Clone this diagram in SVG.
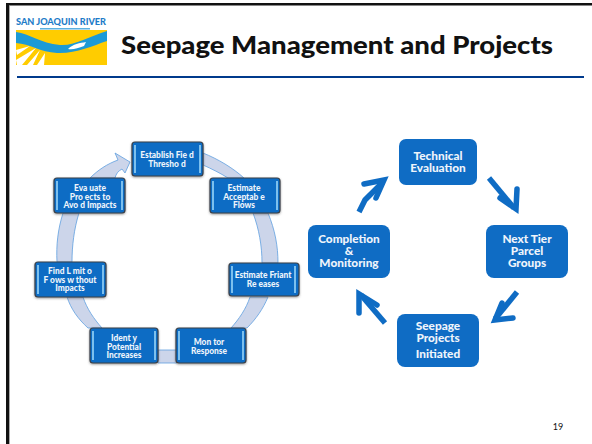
<svg xmlns="http://www.w3.org/2000/svg" width="592" height="444" viewBox="0 0 592 444">
<defs>
<style>
text{font-family:"Lato","Liberation Sans",sans-serif;font-weight:900;text-anchor:middle}
.l{font-size:8.400px;fill:#eef4fb}
.r{font-size:11.800px;fill:#eef4fb}
.box{fill:#0f6cc4;stroke:#3a4048;stroke-width:1.2}
.bar{fill:#7cc0ee}
.rbox{fill:#0f6cc4}
.seg{fill:#ccd5ea;stroke:#5f9fe0;stroke-width:.8}
.arr{fill:none;stroke:#0f6cc4;stroke-width:5.500}
</style>
<filter id="soft" x="-5%" y="-5%" width="110%" height="110%"><feGaussianBlur stdDeviation=".5"/></filter>
<filter id="sh" x="-10%" y="-10%" width="120%" height="125%"><feDropShadow dx="0" dy="1" stdDeviation=".8" flood-color="#555" flood-opacity=".6"/></filter>
</defs>
<rect width="592" height="444" fill="#fff"/>
<g id="frame">
<rect x="6" y="3" width="586" height="2.500" fill="#111"/>
<rect x="6" y="3" width="3" height="441" fill="#111"/>
<rect x="9" y="6" width="1" height="438" fill="#aaa"/>
<rect x="17" y="76" width="567" height="2" fill="#003a8c"/>
</g>
<g id="logo">
<g filter="url(#soft)">
<rect x="16" y="30" width="91" height="35" fill="#ffcc00"/>
<path d="M16 32C30 34 40 43 60 45C75 46 90 36 107 31V41C92 46 75 54 57 53C40 52 30 44 16 43Z" fill="#1e9ad6"/>
<path d="M68 49C73 44 80 43 86 42L84 46C78 48 73 50 68 49Z" fill="#fff"/>
<path d="M16 50L30 46L17 55ZM16 60L36 48L22 65H17ZM27 65L40 50L33 65ZM37 65L45 53L44 65Z" fill="#fff"/>
<rect x="40" y="28" width="50" height="1.500" fill="#5ab0e0"/>
</g>
<text x="61" y="25" style="font-size:8.500px;fill:#1e7cc8" textLength="90" lengthAdjust="spacingAndGlyphs">SAN JOAQUIN RIVER</text>
</g>
<text id="title" x="337" y="54" style="font-size:24px;fill:#111" textLength="432" lengthAdjust="spacingAndGlyphs">Seepage Management and Projects</text>
<g id="connectors">
<path class="seg" d="M203 153C218 159 233 168 244 178H228C220 173 212 169 203 165Z"/>
<path class="seg" d="M253 213H268C275 230 278 246 278 263H262C262 246 259 229 253 213Z"/>
<path class="seg" d="M250 297H268C263 309 256 319 247 328H231C239 319 246 309 250 297Z"/>
<path class="seg" d="M158 350H177V363H158Z"/>
<path class="seg" d="M67 297H83C87 309 94 319 102 328H88C78 319 71 309 67 297Z"/>
<path class="seg" d="M63 213H79C74 229 72 246 72 262H57C56 245 58 229 63 213Z"/>
<path class="seg" d="M90 178C98 170 107 164 118 160L115 153L130 162L125 173L122 169C118 171 116 174 115 178Z"/>
<polyline class="arr" points="359,212 365,200 383,182"/>
<polyline class="arr" stroke-linecap="round" points="364,184 384,180 376,198"/>
<polyline class="arr" points="489,178 514,208"/>
<polyline class="arr" stroke-linecap="round" points="517,189 516,209 500,198"/>
<polyline class="arr" points="517,292 495,319"/>
<polyline class="arr" stroke-linecap="round" points="502,303 495,320 513,318"/>
<polyline class="arr" points="385,323 361,295"/>
<polyline class="arr" stroke-linecap="round" points="359,313 359,294 377,305"/>
</g>
<g id="n-field">
<rect class="box" filter="url(#sh)" x="132" y="142" width="71" height="34" rx="3"/><rect class="bar" x="134" y="145" width="2" height="28"/><rect class="bar" x="199" y="145" width="2" height="28"/>
<text class="l" x="167" y="158">Establish Fie d</text><text class="l" x="167" y="166.500">Thresho d</text>
</g>
<g id="n-evaluate">
<rect class="box" filter="url(#sh)" x="54" y="178" width="71" height="35" rx="3"/><rect class="bar" x="56" y="181" width="2" height="29"/><rect class="bar" x="121" y="181" width="2" height="29"/>
<text class="l" x="90" y="191">Eva uate</text><text class="l" x="90" y="199.500">Pro ects to</text><text class="l" x="90" y="208">Avo d Impacts</text>
</g>
<g id="n-acceptable">
<rect class="box" filter="url(#sh)" x="210" y="178" width="70" height="35" rx="3"/><rect class="bar" x="212" y="181" width="2" height="29"/><rect class="bar" x="276" y="181" width="2" height="29"/>
<text class="l" x="244" y="191">Estimate</text><text class="l" x="244" y="199.500">Acceptab e</text><text class="l" x="244" y="208">Flows</text>
</g>
<g id="n-limit">
<rect class="box" filter="url(#sh)" x="35" y="262" width="71" height="35" rx="3"/><rect class="bar" x="37" y="265" width="2" height="29"/><rect class="bar" x="102" y="265" width="2" height="29"/>
<text class="l" x="70" y="274">Find L mit o</text><text class="l" x="70" y="282.500">F ows w thout</text><text class="l" x="70" y="291">Impacts</text>
</g>
<g id="n-friant">
<rect class="box" filter="url(#sh)" x="229" y="263" width="70" height="33" rx="3"/><rect class="bar" x="231" y="266" width="2" height="27"/><rect class="bar" x="294" y="266" width="2" height="27"/>
<text class="l" x="263" y="278">Estimate Friant</text><text class="l" x="263" y="287">Re eases</text>
</g>
<g id="n-identify">
<rect class="box" filter="url(#sh)" x="90" y="328" width="68" height="35" rx="3"/><rect class="bar" x="92" y="331" width="2" height="29"/><rect class="bar" x="154" y="331" width="2" height="29"/>
<text class="l" x="124" y="341">Ident  y</text><text class="l" x="124" y="349.500">Potential</text><text class="l" x="124" y="358">Increases</text>
</g>
<g id="n-monitor">
<rect class="box" filter="url(#sh)" x="176" y="328" width="70" height="35" rx="3"/><rect class="bar" x="178" y="331" width="2" height="29"/><rect class="bar" x="242" y="331" width="2" height="29"/>
<text class="l" x="209" y="345">Mon tor</text><text class="l" x="209" y="354">Response</text>
</g>
<g id="n-technical">
<rect class="rbox" x="399" y="139" width="78" height="46" rx="7"/>
<text class="r" x="438" y="160">Technical</text><text class="r" x="438" y="172">Evaluation</text>
</g>
<g id="n-nexttier">
<rect class="rbox" x="486" y="225" width="82" height="53" rx="8"/>
<text class="r" x="527" y="243">Next Tier</text><text class="r" x="527" y="255">Parcel</text><text class="r" x="527" y="267">Groups</text>
</g>
<g id="n-completion">
<rect class="rbox" x="308" y="225" width="82" height="53" rx="8"/>
<text class="r" x="349" y="243">Completion</text><text class="r" x="349" y="255">&amp;</text><text class="r" x="349" y="267">Monitoring</text>
</g>
<g id="n-seepage">
<rect class="rbox" x="397" y="314" width="82" height="53" rx="8"/>
<text class="r" x="438" y="330">Seepage</text><text class="r" x="438" y="342">Projects</text><text class="r" x="438" y="358">Initiated</text>
</g>
<text id="page" x="558" y="430" style="font-size:9px;font-weight:400;fill:#111">19</text>
</svg>
